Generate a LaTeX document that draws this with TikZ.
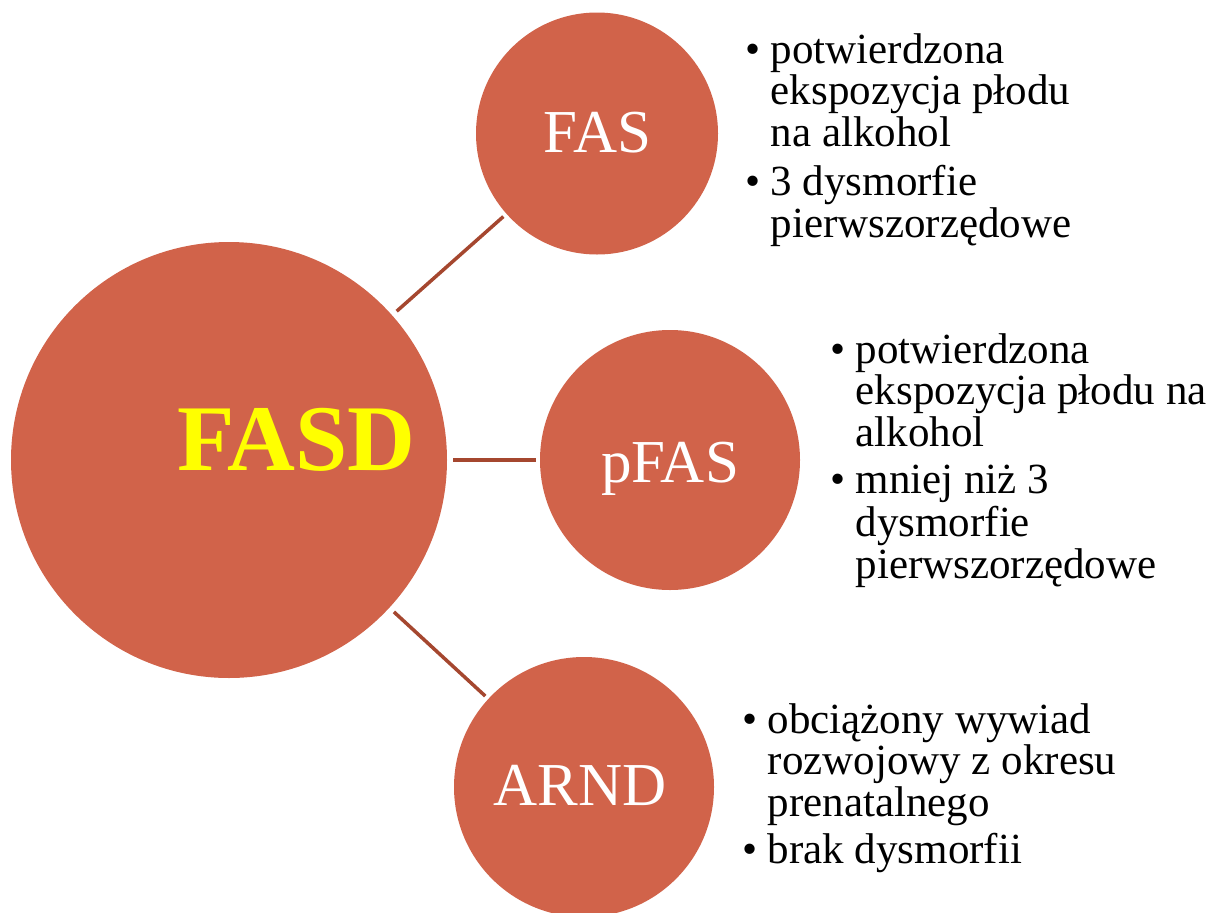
\documentclass[tikz,border=0pt]{standalone}
\usepackage{fontspec}
\setmainfont{Liberation Serif}
\definecolor{bubfill}{HTML}{D1634A}
\definecolor{linkc}{HTML}{A5472F}
\definecolor{fasdyellow}{HTML}{FFFF00}
\newcommand\bul{\makebox[25.5pt][l]{•}}
\newcommand\ind{\makebox[25.5pt][l]{}}
\tikzset{
  bub/.style={circle, fill=bubfill, draw=none, inner sep=0pt},
  bublabel/.style={text=white, font=\fontsize{61}{61}\selectfont, inner sep=0pt, anchor=base},
  link/.style={draw=linkc, line width=3.5pt, shorten >=4pt, shorten <=6pt},
  blk/.style={text=black, font=\fontsize{43}{40.5}\selectfont, inner sep=0pt, anchor=base west}
}
\begin{document}
\begin{tikzpicture}[x=1pt, y=-1pt]
\useasboundingbox (0,0) rectangle (1213,913);
% circles
\node[bub, minimum size=436pt] (fasd) at (229,460) {};
\node[bub, minimum size=242pt] (fas) at (597,133.5) {};
\node[bub, minimum size=260pt] (pfas) at (670,460) {};
\node[bub, minimum size=260pt] (arnd) at (584,787) {};
% connectors
\draw[link] (fasd) -- (fas);
\draw[link] (fasd) -- (pfas);
\draw[link] (fasd) -- (arnd);
% circle labels
\node[text=fasdyellow, font=\bfseries\fontsize{94}{94}\selectfont, inner sep=0pt, anchor=base] (fasdlabel) at (296.5,470) {FASD};
\node[bublabel] (faslabel) at (597.5,152) {FAS};
\node[bublabel] (pfaslabel) at (670,482) {pFAS};
\node[bublabel] (arndlabel) at (580,805) {ARND};
% bullet blocks
\node[blk] (fastext) at (745,63) {\begin{tabular}[t]{@{}l@{}l@{}}
\bul & potwierdzona\\
\ind & ekspozycja płodu\\
\ind & na alkohol\\[6pt]
\bul & 3 dysmorfie\\
\ind & pierwszorzędowe
\end{tabular}};
\node[blk] (pfastext) at (830,363) {\begin{tabular}[t]{@{}l@{}l@{}}
\bul & potwierdzona\\
\ind & ekspozycja płodu na\\
\ind & alkohol\\[6pt]
\bul & mniej niż 3\\
\ind & dysmorfie\\
\ind & pierwszorzędowe
\end{tabular}};
\node[blk] (arndtext) at (742,733) {\begin{tabular}[t]{@{}l@{}l@{}}
\bul & obciążony wywiad\\
\ind & rozwojowy z okresu\\
\ind & prenatalnego\\[4pt]
\bul & brak dysmorfii
\end{tabular}};
\end{tikzpicture}
\end{document}
